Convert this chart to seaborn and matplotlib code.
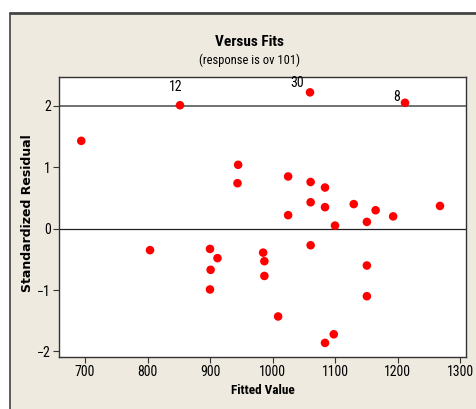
import numpy as np
import pandas as pd
import matplotlib
matplotlib.use("Agg")
import matplotlib.pyplot as plt
import seaborn as sns
from matplotlib.patches import Rectangle

# fitted values and standardized residuals
fitted = [694, 852, 1060, 1212, 945, 944, 1025, 1025, 1061, 1061,
          1084, 1084, 1100, 1130, 1151, 1165, 1193, 1268,
          804, 900, 912, 901, 900, 985, 987, 987, 1009, 1061,
          1084, 1098, 1151, 1151]
resid = [1.43, 2.01, 2.22, 2.05, 1.04, 0.74, 0.85, 0.22, 0.76, 0.43,
         0.67, 0.35, 0.05, 0.40, 0.11, 0.30, 0.20, 0.37,
         -0.35, -0.33, -0.48, -0.67, -0.99, -0.39, -0.53, -0.77, -1.43, -0.27,
         -1.86, -1.72, -0.60, -1.10]
obs_labels = {1: "12", 2: "30", 3: "8"}
x_ticks = [700, 800, 900, 1000, 1100, 1200, 1300]
y_ticks = [-2, -1, 0, 1, 2]

df = pd.DataFrame({"Fitted": fitted, "Resid": resid})

sns.set_style("white")
plt.rcParams["font.family"] = ["Liberation Sans Narrow", "DejaVu Sans Condensed",
                               "Roboto Condensed", "DejaVu Sans"]
plt.rcParams["text.color"] = "black"
plt.rcParams["xtick.color"] = "black"
plt.rcParams["ytick.color"] = "black"

W, H = 477, 409
fig = plt.figure(figsize=(W / 100, H / 100), dpi=100)
fig.patch.set_facecolor("white")

# beige panel with dark border on top/left
panel = Rectangle((10 / W, 0), 1 - 10 / W, 1 - 12 / H, transform=fig.transFigure,
                  facecolor="#EEEAE0", edgecolor="none", zorder=-2)
fig.patches.append(panel)
fig.add_artist(plt.Line2D([10 / W, 1], [1 - 12.5 / H] * 2, transform=fig.transFigure,
                          color="#444444", lw=2))
fig.add_artist(plt.Line2D([10 / W] * 2, [0, 1 - 12.5 / H], transform=fig.transFigure,
                          color="#444444", lw=1.2))

ax = fig.add_axes([59 / W, 1 - 357 / H, (466 - 59) / W, (357 - 77) / H])
ax.set_facecolor("white")

sns.scatterplot(data=df, x="Fitted", y="Resid", ax=ax, color="red",
                s=38, edgecolor="none", zorder=3)

ax.axhline(0, color="#222222", lw=0.9, zorder=1)
ax.axhline(2, color="#666666", lw=1.3, zorder=1)

ax.set_xlim(658.4, 1309.6)
ax.set_ylim(-2.09, 2.47)
ax.set_xticks(x_ticks)
ax.set_yticks(y_ticks)
ax.tick_params(axis="both", direction="out", length=4, width=0.8, color="#333333",
               labelsize=10, pad=2, bottom=True, left=True)
for sp in ax.spines.values():
    sp.set_color("#333333")
    sp.set_linewidth(1)

ax.set_xlabel("")
ax.set_ylabel("")
fig.text(263 / W, 1 - 390 / H, "Fitted Value", ha="center", va="center",
         fontsize=9.5, fontweight="bold")
fig.text(28 / W, 1 - 213 / H, "Standardized Residual", ha="center", va="center",
         rotation=90, fontsize=9, fontweight="bold", family=["DejaVu Sans"])

# point labels
ax.annotate(obs_labels[1], (df.Fitted[1], df.Resid[1]), xytext=(-3, 8),
            textcoords="offset points", ha="center", va="bottom", fontsize=10)
ax.annotate(obs_labels[2], (df.Fitted[2], df.Resid[2]), xytext=(-9, 2),
            textcoords="offset points", ha="center", va="bottom", fontsize=10)
ax.annotate(obs_labels[3], (df.Fitted[3], df.Resid[3]), xytext=(-6, -1),
            textcoords="offset points", ha="center", va="bottom", fontsize=10)

fig.text(250 / W, 1 - 42 / H, "Versus Fits", ha="center", va="center",
         fontsize=11, fontweight="bold")
fig.text(250 / W, 1 - 60 / H, "(response is ov 101)", ha="center", va="center",
         fontsize=9)

fig.savefig("out.png", dpi=100, facecolor=fig.get_facecolor())
